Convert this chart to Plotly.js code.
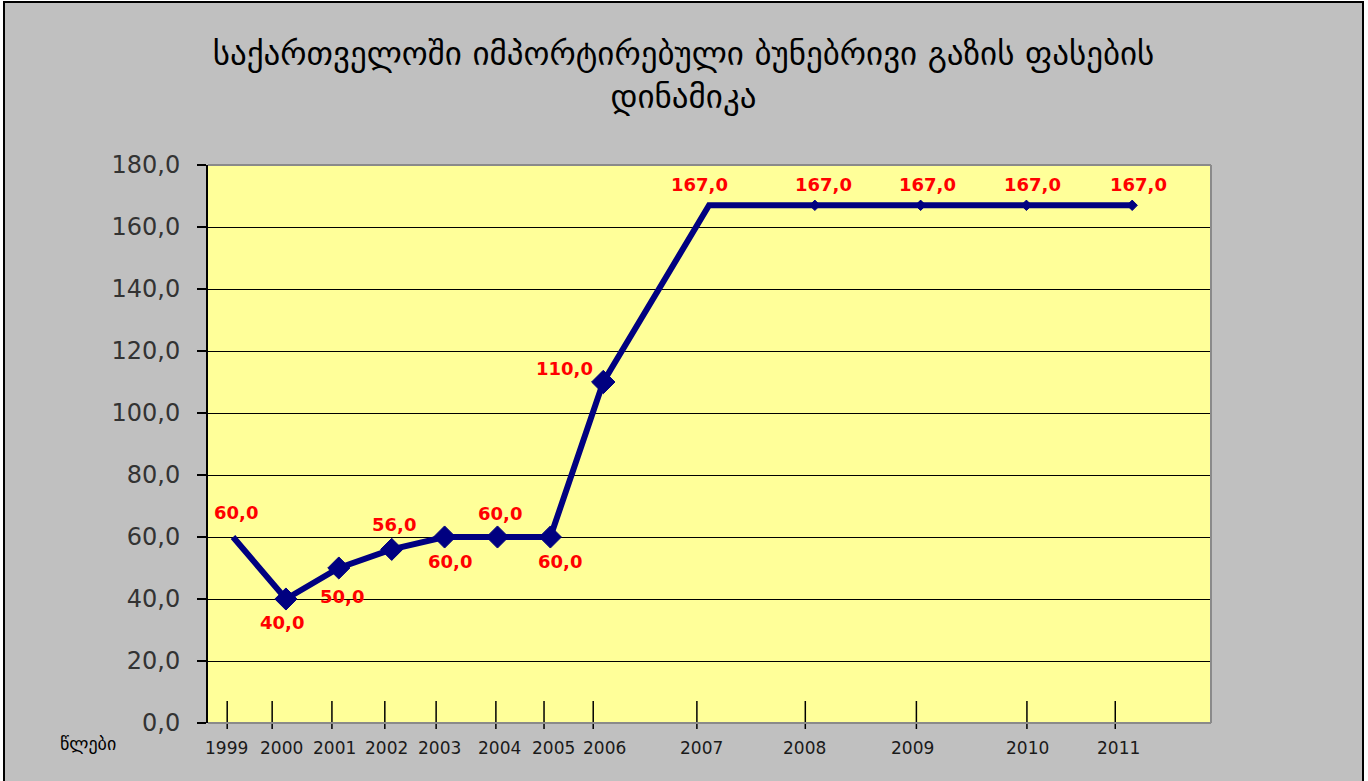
<!DOCTYPE html>
<html>
<head>
<meta charset="utf-8">
<script src="https://cdn.plot.ly/plotly-3.0.1.min.js"></script>
<style>
  html, body { margin: 0; padding: 0; background: #ffffff; overflow: hidden; }
  #frame { position: absolute; left: 3px; top: 1px; width: 1357px; height: 778px;
           border-left: 2px solid #000; border-top: 2px solid #000; border-right: 2px solid #000;
           background: #c0c0c0; }
  #chart { width: 1357px; height: 778px; }
</style>
</head>
<body>
<div id="frame"><div id="chart"></div></div>
<script>
// ---- data ----
const years  = ['1999','2000','2001','2002','2003','2004','2005','2006','2007','2008','2009','2010','2011'];
const prices = [60, 40, 50, 56, 60, 60, 60, 110, 167, 167, 167, 167, 167];
// horizontal slot of each year on the (unevenly spaced) axis of the original
const xSlot  = [0, 1, 2, 3, 4, 5, 6, 7, 9, 11, 13, 15, 17];
const yTicks = [0, 20, 40, 60, 80, 100, 120, 140, 160, 180];

const titleText = 'საქართველოში იმპორტირებული ბუნებრივი გაზის ფასების<br>დინამიკა';
const xAxisLabel = 'წლები';

// ---- layout helpers (style / placement, not data) ----
const yearLabelSlot = [-0.13, 0.91, 1.91, 2.91, 3.90, 5.03, 6.05, 7.03, 8.85, 10.80, 12.84, 15.03, 16.75];
const yearTickSlot  = [-0.11, 0.74, 1.87, 2.87, 3.84, 4.97, 5.88, 6.81, 8.77, 10.82, 12.92, 15.01, 16.68];
const labelShift = [[3,-25],[-4,23],[3,28],[2,-25],[5,24],[3,-24],[10,24],[-39,-14],[-10,-21],[9,-21],[7,-21],[6,-21],[6,-21]];
const markerSizes = [0, 17, 17, 17, 17, 17, 17, 18, 0, 8, 8, 8, 8];

const fmt = v => v.toFixed(1).replace('.', ',');

const trace = {
  x: xSlot, y: prices, type: 'scatter', mode: 'lines+markers',
  line: { color: '#000080', width: 6 },
  marker: { symbol: 'diamond', color: '#000080', size: markerSizes, opacity: 1,
            line: { color: '#000080', width: 1 } },
  cliponaxis: false, hoverinfo: 'skip'
};

const annotations = [];
prices.forEach((v, i) => {
  annotations.push({
    x: xSlot[i], y: v, xref: 'x', yref: 'y', text: fmt(v), showarrow: false,
    xanchor: 'center', yanchor: 'middle',
    xshift: labelShift[i][0], yshift: -labelShift[i][1],
    font: { family: 'DejaVu Sans', size: 18, color: '#ff0000', weight: 'bold' }
  });
});
years.forEach((yr, i) => {
  annotations.push({
    x: yearLabelSlot[i], y: 0, xref: 'x', yref: 'paper', text: yr, showarrow: false,
    xanchor: 'center', yanchor: 'top', yshift: -13,
    font: { family: 'DejaVu Sans', size: 17, color: '#1a1a1a' }
  });
});
annotations.push({
  xref: 'paper', yref: 'paper', x: -0.12, y: 0, xanchor: 'center', yanchor: 'top', yshift: -8,
  text: xAxisLabel, showarrow: false,
  font: { family: 'DejaVu Sans', size: 18, color: '#000' }
});

const shapes = [];
yearTickSlot.forEach(s => {
  shapes.push({ type: 'line', xref: 'x', yref: 'paper', x0: s, x1: s, y0: -6/558, y1: 22/558,
                line: { color: '#000', width: 1.5 }, layer: 'above' });
});
// gray plot-area edges (top, right, bottom)
shapes.push({ type: 'line', xref: 'paper', yref: 'paper', x0: 0, x1: 1, y0: 1, y1: 1, line: { color: '#8a8a8a', width: 2 }, layer: 'above' });
shapes.push({ type: 'line', xref: 'paper', yref: 'paper', x0: 1, x1: 1, y0: 0, y1: 1, line: { color: '#8a8a8a', width: 2 }, layer: 'above' });
shapes.push({ type: 'line', xref: 'paper', yref: 'paper', x0: 0, x1: 1, y0: 0, y1: 0, line: { color: '#8a8a8a', width: 2 }, layer: 'above' });

const layout = {
  width: 1357, height: 778,
  paper_bgcolor: '#c0c0c0', plot_bgcolor: '#ffff99',
  margin: { l: 203, r: 151, t: 162, b: 58 },
  separators: ',.',
  showlegend: false,
  title: {
    text: titleText, xref: 'container', x: 0.5, xanchor: 'center',
    yref: 'container', y: 1 - 62/778, yanchor: 'middle',
    font: { family: 'DejaVu Sans', size: 33, color: '#000' }
  },
  xaxis: {
    range: [-0.473, 18.49], showgrid: false, zeroline: false, showticklabels: false,
    ticks: '', showline: false, fixedrange: true
  },
  yaxis: {
    range: [0, 180], tickvals: yTicks, ticktext: yTicks.map(fmt),
    showgrid: true, gridcolor: '#000', gridwidth: 1, zeroline: false,
    showline: true, linecolor: '#000', linewidth: 2,
    ticks: 'outside', ticklen: 9, tickcolor: '#000', tickwidth: 1.5,
    ticklabelstandoff: 12,
    tickfont: { family: 'DejaVu Sans', size: 24, color: '#333' }, fixedrange: true
  },
  annotations: annotations,
  shapes: shapes
};

Plotly.newPlot('chart', [trace], layout, { staticPlot: true, displayModeBar: false });
</script>
</body>
</html>
